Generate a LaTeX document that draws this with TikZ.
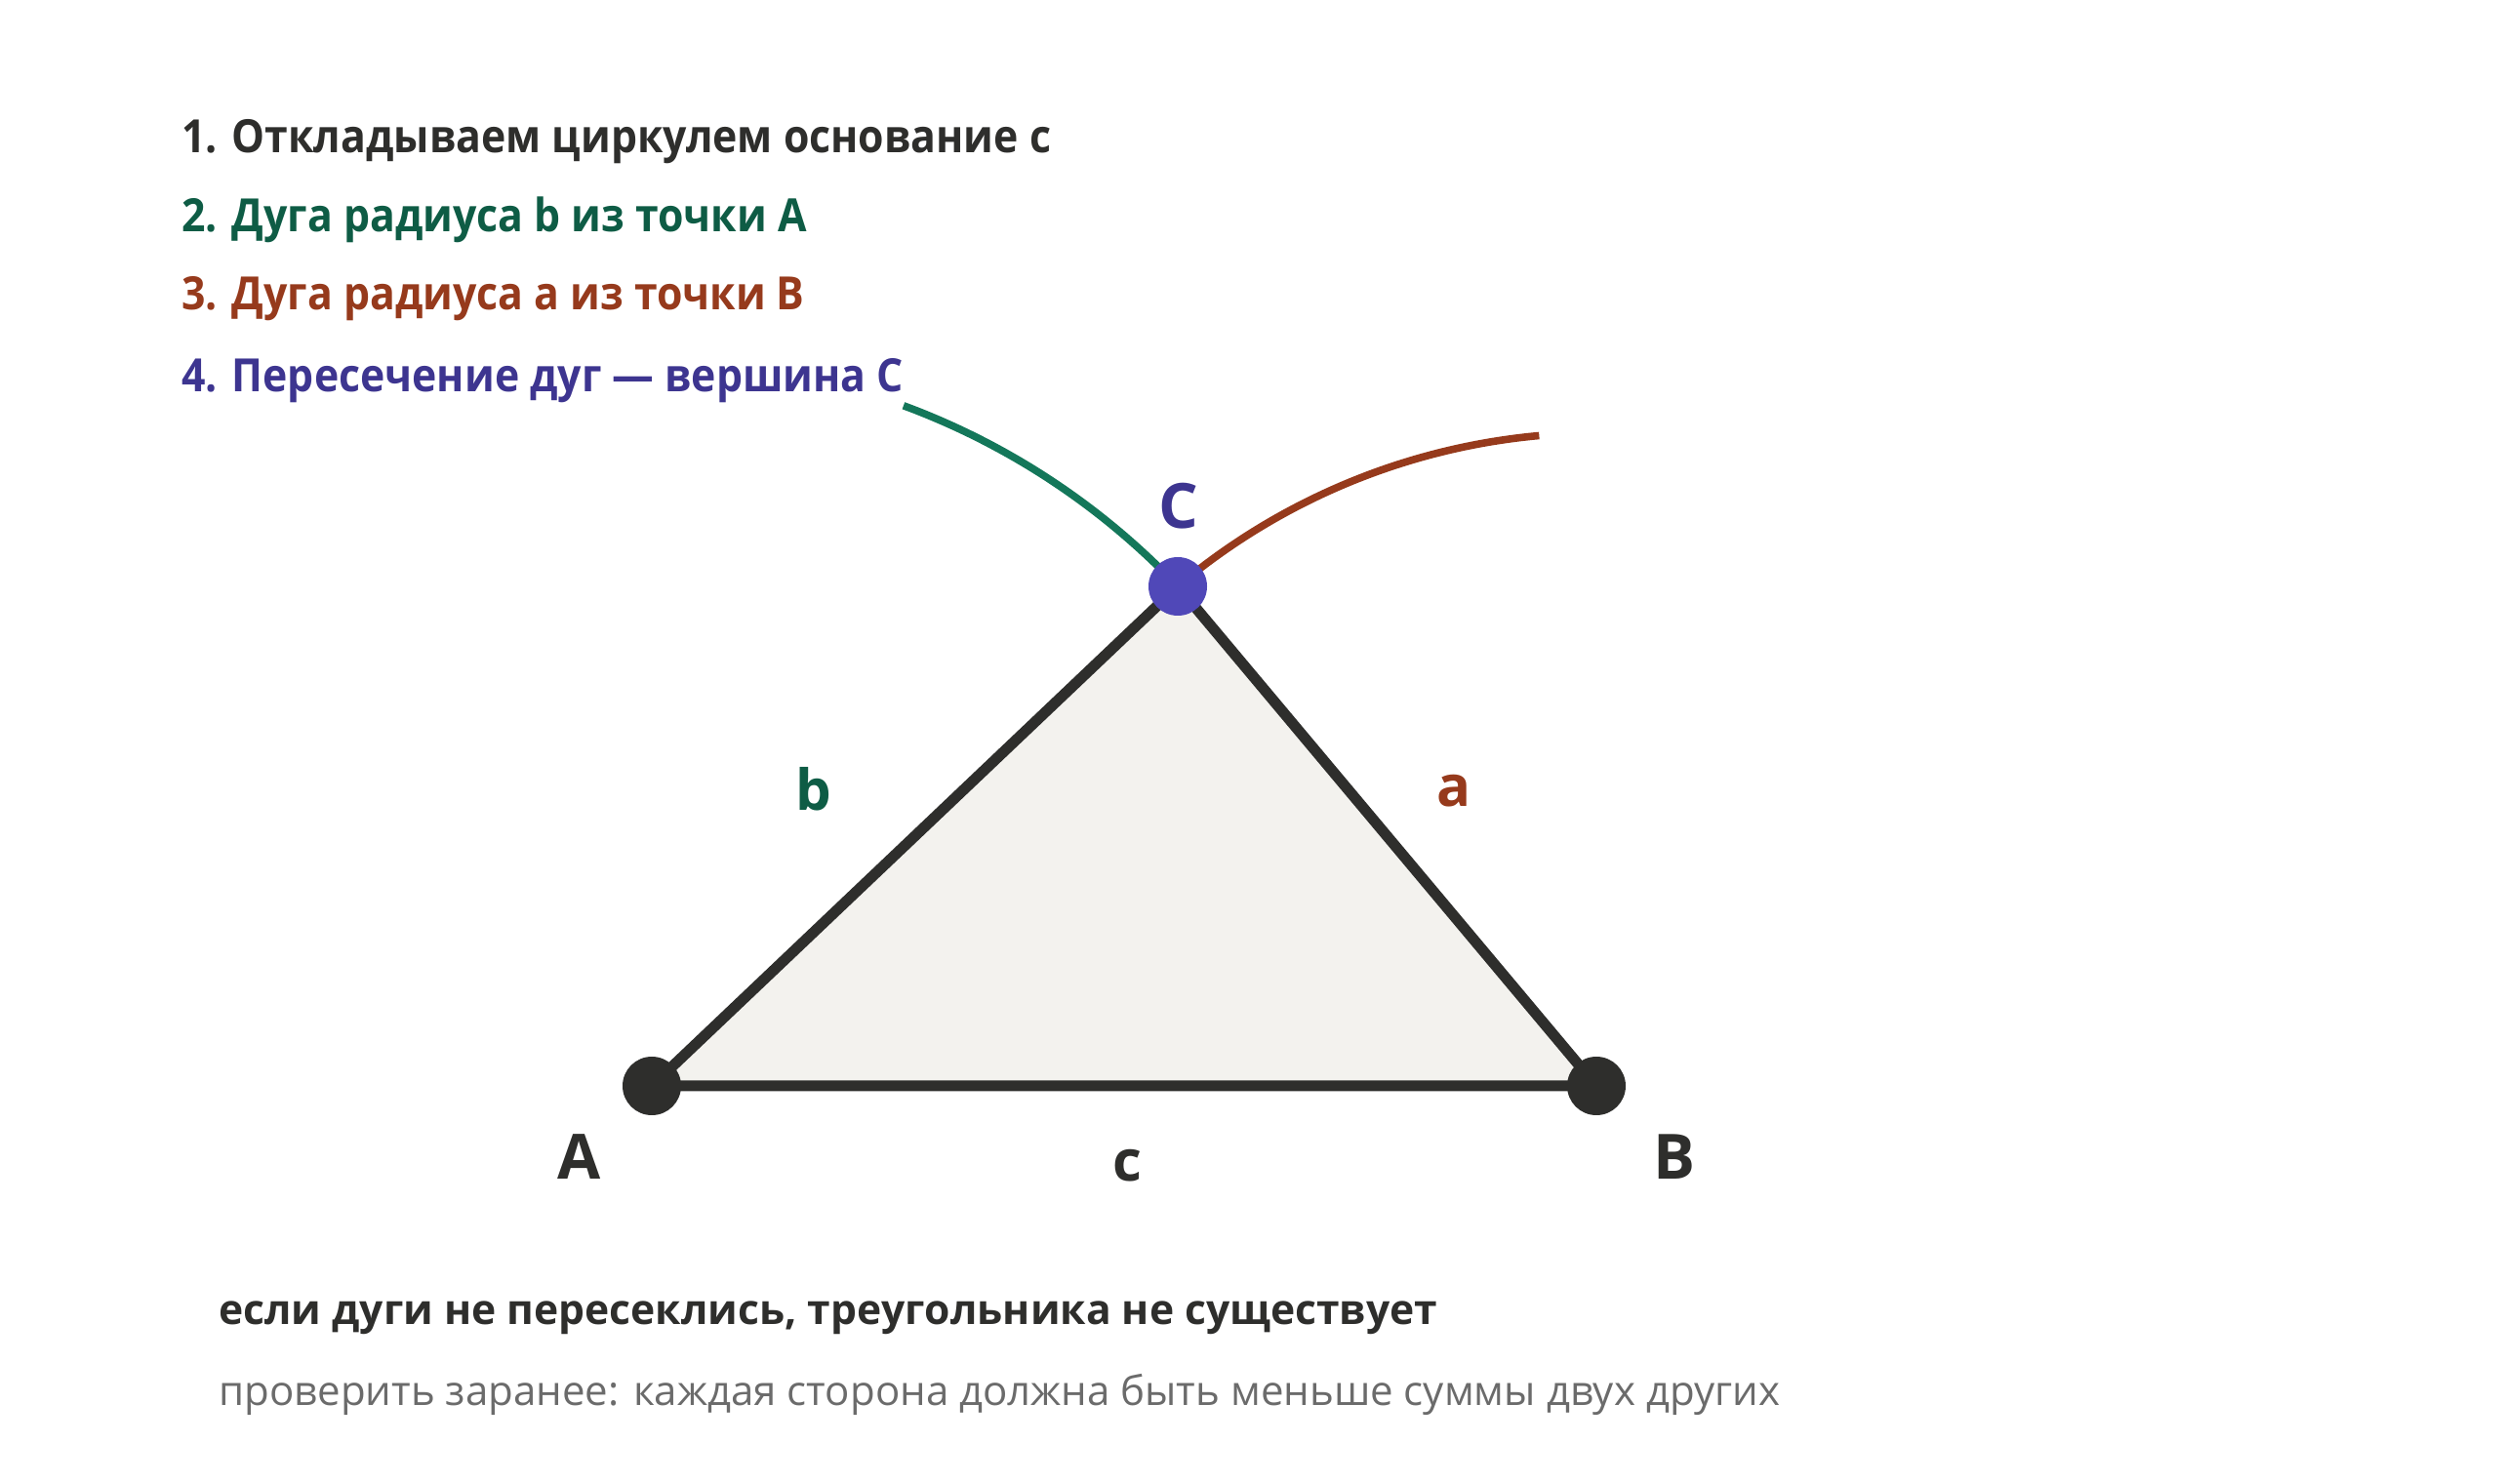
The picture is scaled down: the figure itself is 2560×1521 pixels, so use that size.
\documentclass[tikz,border=0pt]{standalone}
\usepackage{fontspec}
\setmainfont{Open Sans}
\newfontfamily\stepfont{Open Sans}[FakeStretch=0.91]
\definecolor{ink}{HTML}{2E2E2C}
\definecolor{paper}{HTML}{F3F2EE}
\definecolor{sideb}{HTML}{0E5C45}
\definecolor{arcbcol}{HTML}{14775A}
\definecolor{sidea}{HTML}{963A1C}
\definecolor{apex}{HTML}{3D3590}
\definecolor{apexdot}{HTML}{5048B8}
\definecolor{note}{HTML}{6B6B6B}
\tikzset{
	side/.style={draw=ink, line width=5.5pt, line join=round},
	dot/.style={circle, inner sep=0pt, minimum size=30pt},
	vlabel/.style={font=\fontsize{32}{36}\selectfont\bfseries, text=ink},
	slabel/.style={font=\fontsize{29}{34}\selectfont\bfseries},
	stepline/.style={anchor=base west, inner sep=0pt, font=\fontsize{23.5}{28}\stepfont\bfseries},
}
\begin{document}
\begin{tikzpicture}[x=0.5pt,y=0.5pt]
	\useasboundingbox (0,0) rectangle (2560,1521);
	% vertices
	\coordinate (A) at (668,408);
	\coordinate (B) at (1636,408);
	\coordinate (C) at (1207,920);
	% steps
	\node[stepline, text=ink] (s1) at (186,1364) {1. Откладываем циркулем основание c};
	\node[stepline, text=sideb] (s2) at (186,1283) {2. Дуга радиуса b из точки A};
	\node[stepline, text=sidea] (s3) at (186,1203) {3. Дуга радиуса a из точки B};
	\node[stepline, text=apex] (s4) at (186,1119) {4. Пересечение дуг — вершина C};
	% triangle
	\fill[paper] (A) -- (B) -- (C) -- cycle;
	\draw[arcbcol, line width=3.8pt] (C) arc[start angle=43.53, end angle=69.7, radius=743.4];
	\draw[sidea, line width=3.8pt] (C) arc[start angle=130.09, end angle=95.2, radius=669.3];
	\draw[side] (A) -- (B) -- (C) -- cycle;
	\node[dot, fill=ink] (dA) at (A) {};
	\node[dot, fill=ink] (dB) at (B) {};
	\node[dot, fill=apexdot] (dC) at (C) {};
	% labels
	\node[vlabel] (lA) at (594,335) {A};
	\node[vlabel] (lB) at (1716,335) {B};
	\node[vlabel, text=apex] (lC) at (1208,1002) {C};
	\node[slabel, text=ink] (lc) at (1155,326) {c};
	\node[slabel, text=sideb] (lb) at (834,712) {b};
	\node[slabel, text=sidea] (la) at (1490,710) {a};
	% notes
	\node[stepline, font=\fontsize{21.3}{26}\selectfont\bfseries, text=ink] (n1) at (224,163) {если дуги не пересеклись, треугольника не существует};
	\node[stepline, font=\fontsize{21}{26}\selectfont, text=note] (n2) at (224,80) {проверить заранее: каждая сторона должна быть меньше суммы двух других};
\end{tikzpicture}
\end{document}
